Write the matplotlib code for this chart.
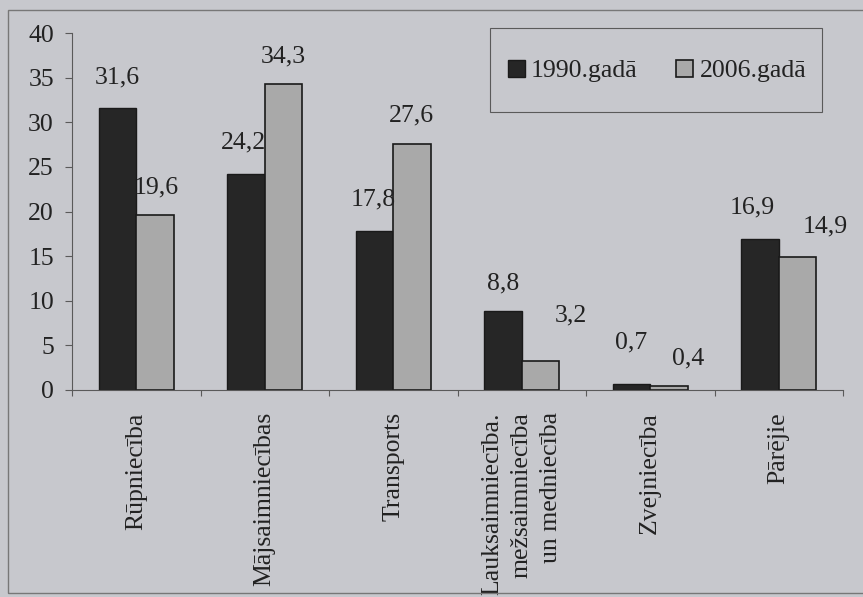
import numpy as np
import matplotlib
matplotlib.use("Agg")
import matplotlib.pyplot as plt
from matplotlib.patches import Rectangle

categories = ["Rūpniecība", "Mājsaimniecības", "Transports",
              "Lauksaimniecība.\nmežsaimniecība\nun medniecība",
              "Zvejniecība", "Pārējie"]
vals_1990 = [31.6, 24.2, 17.8, 8.8, 0.7, 16.9]
vals_2006 = [19.6, 34.3, 27.6, 3.2, 0.4, 14.9]
series_names = ["1990.gadā", "2006.gadā"]

# label nudges (points) to follow the hand placed labels of the original
nudge_1990 = [(0, 22), (-2, 23), (-1, 23), (0, 20), (0, 30), (-6, 23)]
nudge_2006 = [(1, 20), (0, 20), (0, 20), (22, 33), (14, 20), (20, 22)]

bg = "#c7c8cd"
dark = "#262626"
light = "#a9a9a9"
axcol = "#5a5a5a"

plt.rcParams["font.family"] = ["Liberation Serif", "DejaVu Serif"]

fig = plt.figure(figsize=(8.63, 5.97), dpi=100, facecolor=bg)
ax = fig.add_axes([72 / 863, 1 - 390 / 597, 771 / 863, 357 / 597])
ax.set_facecolor(bg)

x = np.arange(len(categories))
w = 0.29
b1 = ax.bar(x - w / 2, vals_1990, w, color=dark, edgecolor="#1a1a1a", linewidth=1, label=series_names[0])
b2 = ax.bar(x + w / 2, vals_2006, w, color=light, edgecolor="#1a1a1a", linewidth=1.2, label=series_names[1])

fs = 18.5
for rect, v, (dx, dy) in zip(b1, vals_1990, nudge_1990):
    ax.annotate(f"{v:.1f}".replace(".", ","), (rect.get_x() + rect.get_width() / 2, v),
                xytext=(dx, dy), textcoords="offset points", ha="center", va="center",
                fontsize=fs, color="#222222")
for rect, v, (dx, dy) in zip(b2, vals_2006, nudge_2006):
    ax.annotate(f"{v:.1f}".replace(".", ","), (rect.get_x() + rect.get_width() / 2, v),
                xytext=(dx, dy), textcoords="offset points", ha="center", va="center",
                fontsize=fs, color="#222222")

ax.set_xlim(-0.5, len(categories) - 0.5)
ax.set_ylim(0, 40)
ax.set_yticks(np.arange(0, 41, 5))
ax.tick_params(axis="y", direction="out", length=5, width=0.8, color=axcol, pad=8,
               labelsize=fs, labelcolor="#222222")
ax.set_xticks(x)
ax.set_xticklabels(categories, rotation=90, fontsize=fs, color="#222222",
                   ha="center", va="top", multialignment="right", linespacing=1.45)
ax.tick_params(axis="x", length=0, pad=16)
ax.set_xticks(np.arange(-0.5, len(categories) + 0.5, 1), minor=True)
ax.tick_params(axis="x", which="minor", direction="out", length=4, width=0.8, color=axcol)

for s in ["top", "right"]:
    ax.spines[s].set_visible(False)
for s in ["left", "bottom"]:
    ax.spines[s].set_color(axcol)
    ax.spines[s].set_linewidth(0.8)

leg = ax.legend(loc="center", bbox_to_anchor=(657 / 863, 1 - 71 / 597),
                bbox_transform=fig.transFigure, ncol=2, fontsize=fs, frameon=False,
                handlelength=0.65, handleheight=0.65, handletextpad=0.25,
                columnspacing=1.5, borderpad=0, borderaxespad=0)
for t in leg.get_texts():
    t.set_color("#222222")

# legend box and outer frame of the chart area
fig.patches.append(Rectangle((490 / 863, 1 - 112 / 597), 332 / 863, 84 / 597,
                             transform=fig.transFigure, fill=False,
                             edgecolor=axcol, linewidth=0.8))
fig.patches.append(Rectangle((8 / 863, 4 / 597), 1.0, 1 - 14 / 597, transform=fig.transFigure,
                             fill=False, edgecolor="#777777", linewidth=1))

fig.savefig("out.png", dpi=100, facecolor=bg)
